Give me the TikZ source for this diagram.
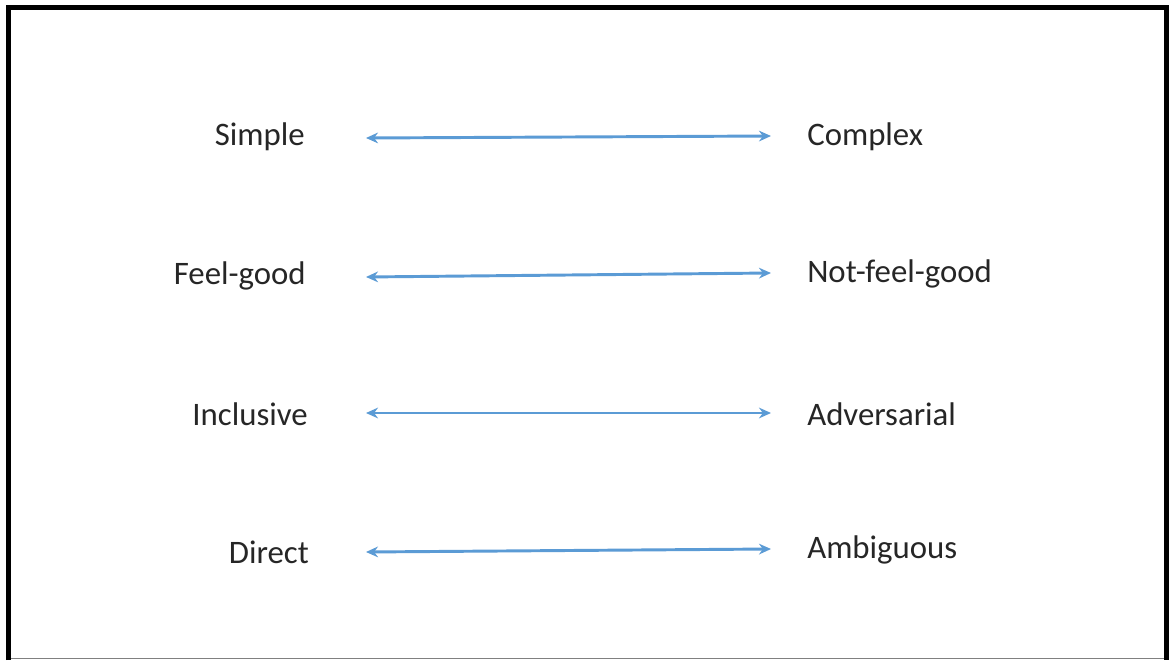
\documentclass[tikz,border=0pt]{standalone}
\usepackage{fontspec}
\setmainfont{Carlito}
\usetikzlibrary{arrows.meta}
\definecolor{arrowblue}{HTML}{5B9BD5}
\begin{document}
\begin{tikzpicture}[x=0.75pt,y=-0.75pt,
  lbl/.style={font=\fontsize{24.6}{29}\selectfont, inner sep=0pt, text=black!85},
  biarrow/.style={arrowblue, line width=2.2pt, {Stealth[length=9pt,width=8pt]}-{Stealth[length=9pt,width=8pt]}}]
\useasboundingbox (0,0) rectangle (1170,660);
\fill[white] (0,0) rectangle (1170,660);
\draw[black!50, line width=0.8pt] (8,658.5) -- (1166,658.5);
\draw[black, line width=3.6pt] (8.5,660) -- (8.5,7.8) -- (1166.5,7.8) -- (1166.5,660);
% left labels
\node[lbl, anchor=east] (l1) at (305,137) {Simple};
\node[lbl, anchor=east] (l2) at (306,276) {Feel-good};
\node[lbl, anchor=east] (l3) at (308,414) {Inclusive};
\node[lbl, anchor=east] (l4) at (309,552) {Direct};
% right labels
\node[lbl, anchor=west] (r1) at (807,137) {Complex};
\node[lbl, anchor=west] (r2) at (807,274) {Not-feel-good};
\node[lbl, anchor=west] (r3) at (807,414) {Adversarial};
\node[lbl, anchor=west] (r4) at (807,550) {Ambiguous};
% arrow end points
\coordinate (a1) at (366,138); \coordinate (b1) at (771,136);
\coordinate (a2) at (366,277); \coordinate (b2) at (771,273);
\coordinate (a3) at (366,413); \coordinate (b3) at (771,413);
\coordinate (a4) at (366,552); \coordinate (b4) at (771,549);
\draw[biarrow] (a1) -- (b1);
\draw[biarrow] (a2) -- (b2);
\draw[biarrow] (a3) -- (b3);
\draw[biarrow] (a4) -- (b4);
\end{tikzpicture}
\end{document}
